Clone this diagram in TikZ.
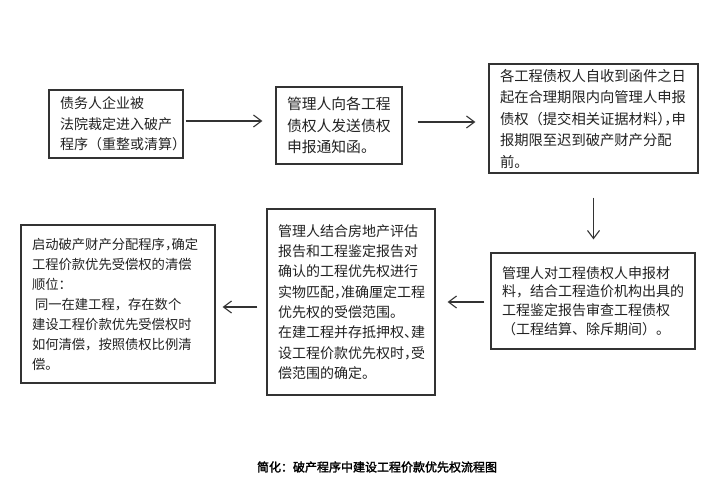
\documentclass[tikz,border=0pt]{standalone}
\usepackage{fontspec}
\setmainfont{Noto Sans CJK SC}[AutoFakeBold=2]
\usetikzlibrary{arrows.meta}
\definecolor{ink}{HTML}{222222}
\definecolor{edge}{HTML}{333333}
\newcommand{\hp}[1]{\makebox[0.5em][l]{#1}}
\begin{document}
\begin{tikzpicture}[x=1pt,y=-1pt,
  box/.style={draw=edge,line width=1.3pt,rectangle,align=left,inner xsep=11pt,inner ysep=0pt,text=ink},
  arr/.style={draw=edge,line width=1.1pt,-{Straight Barb[length=8pt,width=12pt,line width=1.1pt]}},
  ]
\useasboundingbox[fill=white] (0,0) rectangle (720,491);
\node[box,text width=112pt,minimum height=68pt,font=\fontsize{14}{20.5}\selectfont] (b1) at (116,124)
  {债务人企业被\\法院裁定进入破产\\程序（重整或清算）};
\node[box,text width=104pt,minimum height=77pt,font=\fontsize{14.8}{21.7}\selectfont] (b2) at (339,125.5)
  {管理人向各工程\\债权人发送债权\\申报通知函。};
\node[box,text width=187pt,minimum height=109pt,font=\fontsize{14.3}{21.5}\selectfont] (b3) at (593.5,118.5)
  {各工程债权人自收到函件之日\\起在合理期限内向管理人申报\\债权（提交相关证据材料\hp{）}\hp{，}申\\报期限至迟到破产财产分配\\前。};
\node[box,text width=182pt,minimum height=96pt,font=\fontsize{14}{18.7}\selectfont] (b4) at (593,301)
  {管理人对工程债权人申报材\\料，结合工程造价机构出具的\\工程鉴定报告审查工程债权\\（工程结算、除斥期间）。};
\node[box,text width=146pt,minimum height=186pt,font=\fontsize{14}{20.3}\selectfont] (b5) at (351,302)
  {管理人结合房地产评估\\报告和工程鉴定报告对\\确认的工程优先权进行\\实物匹配\hp{，}准确厘定工程\\优先权的受偿范围。\\在建工程并存抵押权\hp{、}建\\设工程价款优先权时\hp{，}受\\偿范围的确定。};
\node[box,text width=172pt,minimum height=158pt,font=\fontsize{13.3}{20}\selectfont] (b6) at (118,304)
  {启动破产财产分配程序\hp{，}确定\\工程价款优先受偿权的清偿\\顺位：\\\hspace{3pt}同一在建工程，存在数个\\建设工程价款优先受偿权时\\如何清偿，按照债权比例清\\偿。};
\node[font=\fontsize{12}{14}\selectfont\bfseries,text=black] (cap) at (377,467)
  {简化：破产程序中建设工程价款优先权流程图};
\draw[arr,shorten <=2pt,shorten >=13pt] ([yshift=3pt]b1.east) -- ([yshift=3pt]b1.east -| b2.west);
\draw[arr,shorten <=15pt,shorten >=13pt] ([yshift=3.5pt]b2.east) -- ([yshift=3.5pt]b2.east -| b3.west);
\draw[arr,shorten <=24pt,shorten >=13pt] (b3.south) -- (b3.south |- b4.north);
\draw[arr,shorten <=6pt,shorten >=12pt] ([yshift=-1pt]b4.west) -- ([yshift=-1pt]b4.west -| b5.east);
\draw[arr,shorten <=9pt,shorten >=7pt] ([yshift=-5pt]b5.west) -- ([yshift=-5pt]b5.west -| b6.east);
\end{tikzpicture}
\end{document}
